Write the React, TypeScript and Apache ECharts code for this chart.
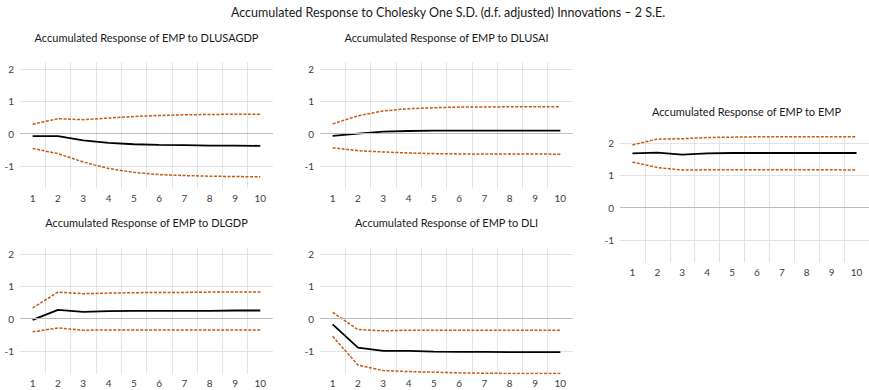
import React, { useEffect, useRef } from "react";
import * as echarts from "echarts";

const categories = ["1", "2", "3", "4", "5", "6", "7", "8", "9", "10"];

// EMP to DLUSAGDP
const usagdpResp = [-0.08, -0.08, -0.21, -0.29, -0.33, -0.35, -0.36, -0.37, -0.37, -0.38];
const usagdpUpper = [0.29, 0.46, 0.43, 0.48, 0.53, 0.56, 0.58, 0.59, 0.6, 0.6];
const usagdpLower = [-0.46, -0.62, -0.88, -1.08, -1.2, -1.27, -1.3, -1.32, -1.33, -1.34];

// EMP to DLUSAI
const usaiResp = [-0.07, 0.0, 0.06, 0.08, 0.09, 0.09, 0.09, 0.09, 0.09, 0.09];
const usaiUpper = [0.3, 0.55, 0.7, 0.77, 0.8, 0.82, 0.82, 0.83, 0.83, 0.83];
const usaiLower = [-0.44, -0.53, -0.57, -0.6, -0.62, -0.63, -0.63, -0.63, -0.63, -0.64];

// EMP to EMP
const empResp = [1.68, 1.7, 1.64, 1.68, 1.69, 1.69, 1.69, 1.69, 1.69, 1.69];
const empUpper = [1.94, 2.12, 2.13, 2.17, 2.18, 2.19, 2.19, 2.19, 2.19, 2.19];
const empLower = [1.41, 1.24, 1.16, 1.17, 1.17, 1.17, 1.17, 1.17, 1.17, 1.16];

// EMP to DLGDP
const gdpResp = [-0.04, 0.27, 0.21, 0.23, 0.24, 0.24, 0.24, 0.24, 0.25, 0.25];
const gdpUpper = [0.33, 0.82, 0.77, 0.79, 0.8, 0.81, 0.81, 0.82, 0.82, 0.82];
const gdpLower = [-0.41, -0.29, -0.36, -0.35, -0.35, -0.35, -0.35, -0.35, -0.35, -0.35];

// EMP to DLI
const dliResp = [-0.18, -0.9, -1.0, -1.0, -1.02, -1.03, -1.03, -1.04, -1.04, -1.04];
const dliUpper = [0.19, -0.34, -0.38, -0.36, -0.36, -0.36, -0.36, -0.36, -0.36, -0.36];
const dliLower = [-0.55, -1.44, -1.61, -1.64, -1.66, -1.68, -1.69, -1.7, -1.7, -1.7];

const mainTitle = "Accumulated Response to Cholesky One S.D. (d.f. adjusted) Innovations \u2013 2 S.E.";

const panelTitles = [
  "Accumulated Response of EMP to DLUSAGDP",
  "Accumulated Response of EMP to DLUSAI",
  "Accumulated Response of EMP to EMP",
  "Accumulated Response of EMP to DLGDP",
  "Accumulated Response of EMP to DLI",
];

const panelData = [
  [usagdpResp, usagdpUpper, usagdpLower],
  [usaiResp, usaiUpper, usaiLower],
  [empResp, empUpper, empLower],
  [gdpResp, gdpUpper, gdpLower],
  [dliResp, dliUpper, dliLower],
];

const FONT = "Lato";
const ORANGE = "#C55A11";

// layout: left, top, titleY
const layout = [
  { left: 20, top: 62.5, titleY: 37 },
  { left: 320, top: 62.5, titleY: 37 },
  { left: 620, top: 136.5, titleY: 111 },
  { left: 20, top: 247.5, titleY: 222 },
  { left: 320, top: 247.5, titleY: 222 },
];
const GW = 253;
const GH = 126;

export default function App() {
  const ref = useRef<HTMLDivElement>(null);
  useEffect(() => {
    if (!ref.current) return;
    const chart = echarts.init(ref.current, undefined, { renderer: "svg" });
    const grids: any[] = [];
    const xAxes: any[] = [];
    const yAxes: any[] = [];
    const series: any[] = [];
    const graphics: any[] = [
      {
        type: "text",
        x: 448,
        y: 12,
        style: {
          text: mainTitle,
          fill: "#1a1a1a",
          font: `12.5px ${FONT}`,
          textAlign: "center",
          textVerticalAlign: "middle",
        },
      },
    ];
    layout.forEach((l, i) => {
      grids.push({ left: l.left, top: l.top, width: GW, height: GH, containLabel: false });
      graphics.push({
        type: "text",
        x: l.left + GW / 2,
        y: l.titleY,
        style: {
          text: panelTitles[i],
          fill: "#1a1a1a",
          font: `11px ${FONT}`,
          textAlign: "center",
          textVerticalAlign: "middle",
        },
      });
      xAxes.push({
        type: "category",
        gridIndex: i,
        data: categories,
        boundaryGap: true,
        axisLine: { show: false },
        axisTick: { show: false },
        axisLabel: { interval: 0, margin: 4, color: "#404040", fontFamily: FONT, fontSize: 10 },
        splitLine: {
          show: true,
          interval: 0,
          showMinLine: false,
          showMaxLine: false,
          lineStyle: { color: "#E3E3E3", width: 1 },
        },
      });
      yAxes.push({
        type: "value",
        gridIndex: i,
        min: -1.7,
        max: 2.2,
        splitNumber: 4,
        axisLine: { show: false },
        axisTick: { show: false },
        axisLabel: {
          margin: 6,
          color: "#404040",
          fontFamily: FONT,
          fontSize: 10,
          showMinLabel: false,
          showMaxLabel: false,
          formatter: (v: number) => (Math.abs(v - Math.round(v)) < 1e-6 ? String(Math.round(v)) : ""),
        },
        splitLine: {
          show: true,
          showMinLine: false,
          showMaxLine: false,
          lineStyle: { color: "#E3E3E3", width: 1 },
        },
      });
      const [resp, upper, lower] = panelData[i];
      series.push({
        type: "line",
        xAxisIndex: i,
        yAxisIndex: i,
        data: upper,
        showSymbol: false,
        z: 2,
        lineStyle: { color: ORANGE, width: 1.5, type: [3, 1.5] },
        markLine: {
          silent: true,
          symbol: ["none", "none"],
          label: { show: false },
          lineStyle: { color: "#BDBDBD", type: "solid", width: 1.2 },
          data: [{ yAxis: 0 }],
        },
      });
      series.push({
        type: "line",
        xAxisIndex: i,
        yAxisIndex: i,
        data: lower,
        showSymbol: false,
        z: 2,
        lineStyle: { color: ORANGE, width: 1.5, type: [3, 1.5] },
      });
      series.push({
        type: "line",
        xAxisIndex: i,
        yAxisIndex: i,
        data: resp,
        showSymbol: false,
        z: 4,
        lineStyle: { color: "#000", width: 1.8 },
      });
    });
    chart.setOption({
      animation: false,
      backgroundColor: "#fff",
      grid: grids,
      xAxis: xAxes,
      yAxis: yAxes,
      series,
      graphic: graphics,
    });
    return () => chart.dispose();
  }, []);
  return (
    <div
      ref={ref}
      style={{ position: "fixed", left: 0, top: 0, width: 869, height: 390 }}
    />
  );
}
